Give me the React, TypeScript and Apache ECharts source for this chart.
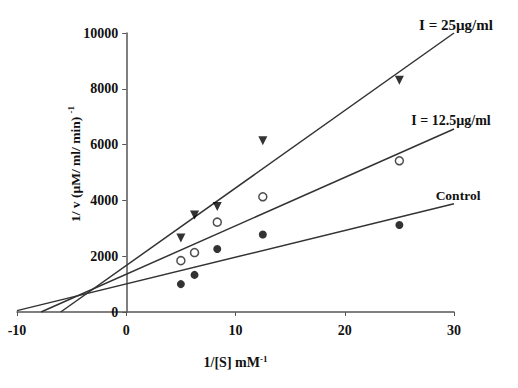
import React, { useEffect, useRef } from "react";
import * as echarts from "echarts";

const xValues = [5, 6.25, 8.33, 12.5, 25];
const controlValues = [1000, 1330, 2260, 2780, 3120];
const i125Values = [1840, 2130, 3220, 4130, 5420];
const i25Values = [2650, 3480, 3780, 6140, 8310];

const controlLine = [[-10, 50], [30, 3880]];
const i125Line = [[-7.8, 0], [30, 6560]];
const i25Line = [[-6.0, 0], [30, 10000]];

const xTicks = { min: -10, max: 30, interval: 10 };
const yTicks = { min: 0, max: 10000, interval: 2000 };

const FONT = '"Liberation Serif", "Times New Roman", serif';
const GRID_LEFT = 17;
const GRID_RIGHT = 64;
const CHART_W = 518;

export default function App() {
  const ref = useRef<HTMLDivElement>(null);
  useEffect(() => {
    const chart = echarts.init(ref.current!, undefined, { renderer: "svg" });
    const pts = (ys: number[]) => xValues.map((x, i) => [x, ys[i]]);
    const lineStyle = { color: "#333", width: 1.5 };
    const plotW = CHART_W - GRID_LEFT - GRID_RIGHT;
    // distance from grid left edge to x = 0
    const zeroOffset = ((0 - xTicks.min) / (xTicks.max - xTicks.min)) * plotW;
    chart.setOption({
      animation: false,
      backgroundColor: "#fff",
      grid: { left: GRID_LEFT, right: GRID_RIGHT, top: 33, bottom: 76, containLabel: false, outerBoundsMode: "none" },
      xAxis: {
        type: "value",
        min: xTicks.min,
        max: xTicks.max,
        interval: xTicks.interval,
        splitLine: { show: false },
        axisLine: { onZero: false, lineStyle: { color: "#555", width: 1.5 } },
        axisTick: { show: true, inside: false, length: 4, lineStyle: { color: "#555" } },
        axisLabel: { color: "#111", fontFamily: FONT, fontWeight: "bold", fontSize: 14, margin: 11, formatter: (v: number) => String(v) },
        name: "{a|1/[S] mM}{s|-1}",
        nameLocation: "middle",
        nameGap: 42,
        nameTextStyle: {
          rich: {
            a: { fontFamily: FONT, fontWeight: "bold", fontSize: 14, color: "#111" },
            s: { fontFamily: FONT, fontWeight: "bold", fontSize: 9, color: "#111", verticalAlign: "top", padding: [0, 0, 8, 0] },
          },
        },
      },
      yAxis: {
        type: "value",
        position: "left",
        offset: -zeroOffset,
        min: yTicks.min,
        max: yTicks.max,
        interval: yTicks.interval,
        splitLine: { show: false },
        axisLine: { show: true, onZero: false, lineStyle: { color: "#555", width: 1.5 } },
        axisTick: { show: true, inside: false, length: 4, lineStyle: { color: "#555" } },
        axisLabel: { color: "#111", fontFamily: FONT, fontWeight: "bold", fontSize: 14, margin: 8, formatter: (v: number) => String(v) },
      },
      graphic: [
        {
          type: "text",
          x: 75,
          y: 164,
          rotation: Math.PI / 2,
          style: {
            text: "{a|1/ v (µM/ ml/ min)} {s|-1}",
            align: "center",
            verticalAlign: "middle",
            rich: {
              a: { fontFamily: FONT, fontWeight: "bold", fontSize: 13.5, fill: "#111" },
              s: { fontFamily: FONT, fontWeight: "bold", fontSize: 9, fill: "#111", padding: [0, 0, 8, 0] },
            },
          },
        },
        { type: "text", x: 456, y: 25, style: { text: "I = 25µg/ml", align: "center", verticalAlign: "middle", font: `bold 15px ${FONT}`, fill: "#111" } },
        { type: "text", x: 451, y: 120, style: { text: "I = 12.5µg/ml", align: "center", verticalAlign: "middle", font: `bold 14px ${FONT}`, fill: "#111" } },
        { type: "text", x: 458, y: 195, style: { text: "Control", align: "center", verticalAlign: "middle", font: `bold 13.5px ${FONT}`, fill: "#111" } },
      ],
      series: [
        { type: "line", data: controlLine, symbol: "none", lineStyle, z: 1 },
        { type: "line", data: i125Line, symbol: "none", lineStyle, z: 1 },
        { type: "line", data: i25Line, symbol: "none", lineStyle, z: 1 },
        { type: "scatter", data: pts(controlValues), symbol: "circle", symbolSize: 8, itemStyle: { color: "#000" }, z: 3 },
        { type: "scatter", data: pts(i125Values), symbol: "circle", symbolSize: 8, itemStyle: { color: "#fff", borderColor: "#222", borderWidth: 1.5 }, z: 3 },
        { type: "scatter", data: pts(i25Values), symbol: "triangle", symbolRotate: 180, symbolSize: 9, itemStyle: { color: "#000" }, z: 3 },
      ],
    });
    return () => chart.dispose();
  }, []);
  return <div ref={ref} style={{ width: 518, height: 388, position: "absolute", left: 0, top: 0 }} />;
}
